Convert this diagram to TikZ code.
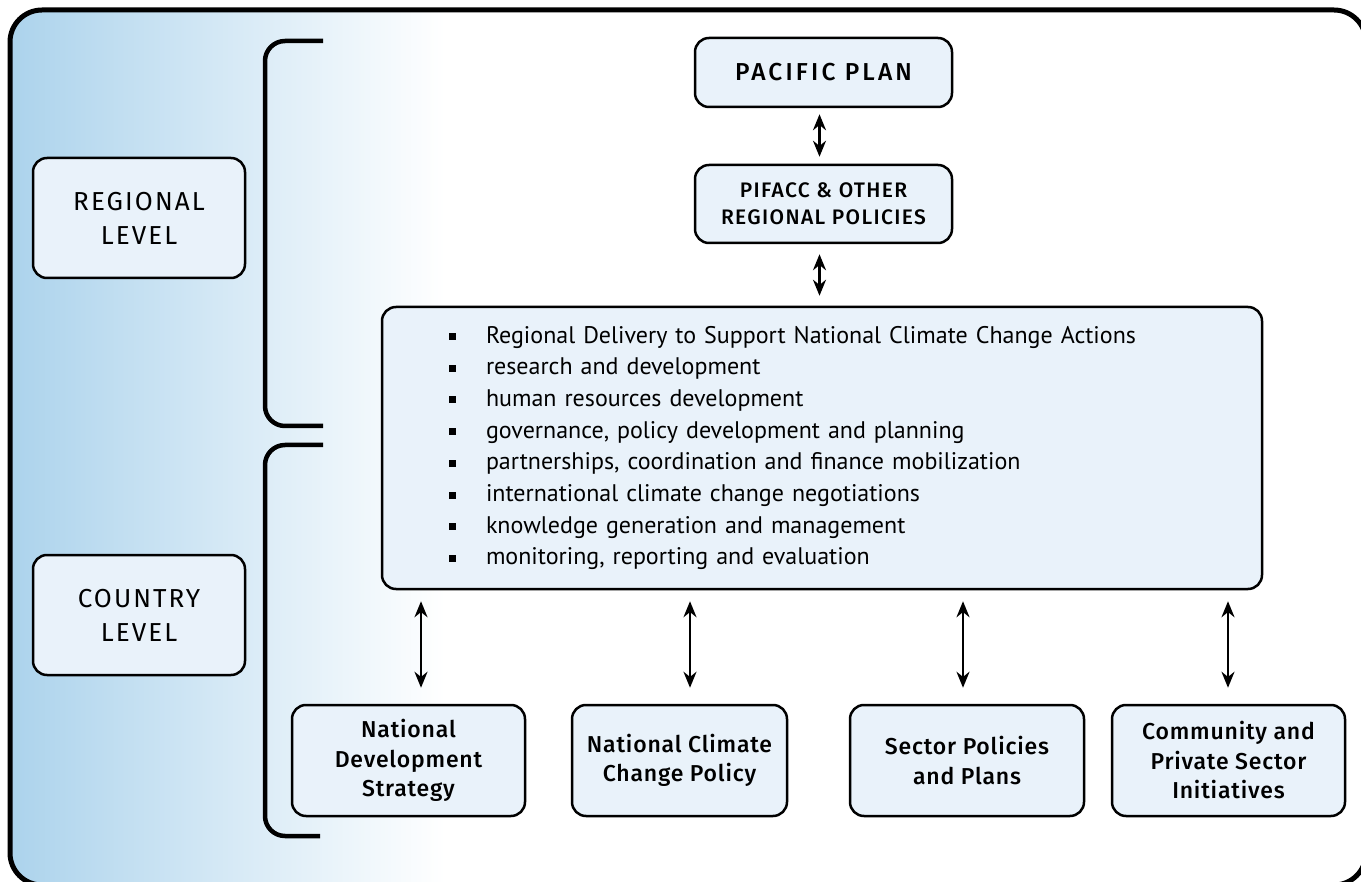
\documentclass[tikz,border=0pt]{standalone}
\usepackage{fontspec}
\setmainfont{PT Sans}
\newfontfamily\capfont[LetterSpace=8]{Fira Sans}
\newfontfamily\medfont{Fira Sans Medium}
\usetikzlibrary{arrows.meta}
\definecolor{framesky}{RGB}{172,211,236}
\definecolor{boxfill}{RGB}{233,242,250}
\newcommand\bul{\hspace*{67pt}\raisebox{3pt}{\rule{7pt}{7pt}}\hspace{30pt}}
\tikzset{
  lvlbox/.style={draw, line width=2.5pt, rounded corners=14pt, fill=boxfill, align=center, inner sep=0pt},
  arr/.style={{Stealth[length=16pt,width=13pt]}-{Stealth[length=16pt,width=13pt]}, line width=2.5pt},
  brace/.style={line width=4.5pt, rounded corners=20pt}
}
\begin{document}
\begin{tikzpicture}[x=1pt,y=-1pt]
        \useasboundingbox (0,0) rectangle (1361,882);
        \begin{scope}
            \clip[rounded corners=32pt] (10,10) rectangle (1366,885);
            \shade[left color=framesky, right color=white] (10,10) rectangle (445,885);
        \end{scope}
        \draw[line width=5pt, rounded corners=32pt] (10,10) rectangle (1366,885);
        \draw[brace] (323,41) -- (265,41) -- (265,426) -- (323,426);
        \draw[brace] (323,445) -- (265,445) -- (265,836) -- (320,836);
        \node[lvlbox, minimum width=212pt, minimum height=120pt, font=\capfont\fontsize{26}{34}\selectfont] (reg) at (139,218) {REGIONAL\\LEVEL};
        \node[lvlbox, minimum width=212pt, minimum height=120pt, font=\capfont\fontsize{26}{34}\selectfont] (cty) at (139,615) {COUNTRY\\LEVEL};
        \node[lvlbox, minimum width=257pt, minimum height=69pt, font=\medfont\fontsize{24.5}{30}\selectfont\addfontfeature{LetterSpace=13}] (pac) at (823.5,72.5) {PACIFIC PLAN};
        \node[lvlbox, minimum width=257pt, minimum height=78pt, font=\medfont\fontsize{21}{27}\selectfont\addfontfeature{LetterSpace=6.5}] (pif) at (823.5,204) {PIFACC \& OTHER\\REGIONAL POLICIES};
        \node[lvlbox, minimum width=880pt, minimum height=282pt, text width=880pt, align=left, font=\fontsize{24}{31.7}\selectfont] (acts) at (822,448) {\bul Regional Delivery to Support National Climate Change Actions\\
            \bul research and development\\
            \bul human resources development\\
            \bul governance, policy development and planning\\
            \bul partnerships, coordination and finance mobilization\\
            \bul international climate change negotiations\\
            \bul knowledge generation and management\\
            \bul monitoring, reporting and evaluation};
        \node[lvlbox, minimum width=233pt, minimum height=111pt, font=\medfont\fontsize{23}{29.5}\selectfont\addfontfeature{LetterSpace=3.5}] (nds) at (408.5,760.5) {National\\Development\\Strategy};
        \node[lvlbox, minimum width=215pt, minimum height=111pt, font=\medfont\fontsize{23}{29.5}\selectfont\addfontfeature{LetterSpace=3.5}] (nccp) at (679.5,760.5) {National Climate\\Change Policy};
        \node[lvlbox, minimum width=234pt, minimum height=111pt, font=\medfont\fontsize{23}{29.5}\selectfont\addfontfeature{LetterSpace=3.5}] (spp) at (967,760.5) {Sector Policies\\and Plans};
        \node[lvlbox, minimum width=233pt, minimum height=111pt, font=\medfont\fontsize{23}{29.5}\selectfont\addfontfeature{LetterSpace=3.5}] (cpsi) at (1228.5,760.5) {Community and\\Private Sector\\Initiatives};
        \draw[arr, shorten <=6pt, shorten >=7pt] ([xshift=-4pt]pac.south) -- ([xshift=-4pt]pif.north);
        \draw[arr, shorten <=10pt, shorten >=10pt] ([xshift=-4pt]pif.south) -- ([xshift=-4pt]pif.south |- acts.north);
        \foreach \b/\dx in {nds/12.5,nccp/10.5,spp/-4,cpsi/-0.5}
            \draw[arr, shorten <=11pt, shorten >=16pt] ([xshift=\dx pt]\b.north |- acts.south) -- ([xshift=\dx pt]\b.north);
    \end{tikzpicture}
\end{document}
